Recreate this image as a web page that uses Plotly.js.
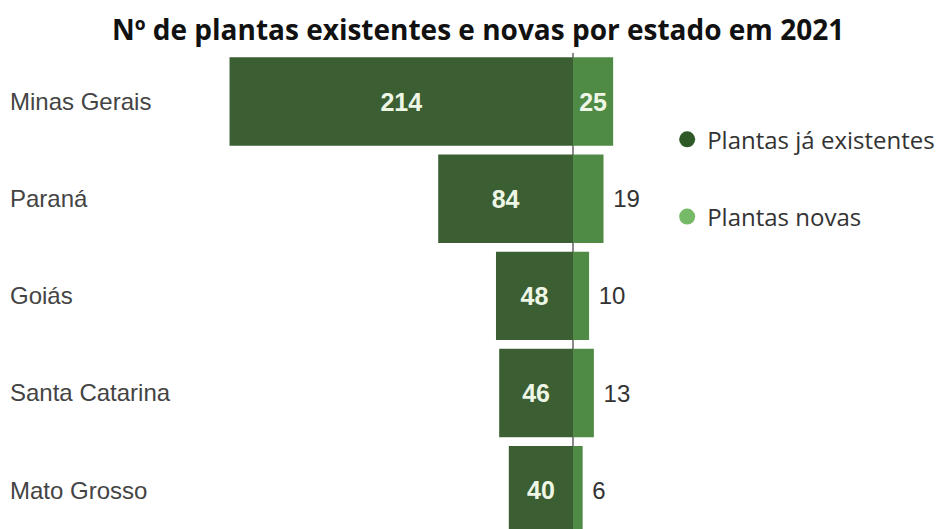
<!DOCTYPE html>
<html>
<head>
<meta charset="utf-8">
<script src="https://cdn.plot.ly/plotly-3.0.1.min.js"></script>
<style>html,body{margin:0;padding:0;background:#fff;}#chart{width:941px;height:529px;}</style>
</head>
<body>
<div id="chart"></div>
<script>
const states = ["Minas Gerais", "Paraná", "Goiás", "Santa Catarina", "Mato Grosso"];
const existentes = [214, 84, 48, 46, 40];
const novas = [25, 19, 10, 13, 6];
const novasTextPos = ["inside", "outside", "outside", "outside", "outside"];
const seriesNames = ["Plantas já existentes", "Plantas novas"];

const barDark = "#3b5f32";
const barLight = "#4f8b45";
const legDark = "#2f5a28";
const legLight = "#76b967";

const traces = [
  {
    type: "bar", orientation: "h", name: seriesNames[0],
    y: states, x: existentes.map(v => -v),
    text: existentes.map(String), textposition: "inside", insidetextanchor: "middle", textangle: 0,
    textfont: {family: "Liberation Sans, Arial, sans-serif", size: 25, color: "#eef6e6", weight: "bold"},
    marker: {color: barDark}, showlegend: false, hoverinfo: "skip", cliponaxis: false
  },
  {
    type: "bar", orientation: "h", name: seriesNames[1],
    y: states, x: novas,
    text: novas.map((v, i) => novasTextPos[i] === "outside" ? "\u00a0" + v : String(v)),
    textposition: novasTextPos, insidetextanchor: "middle", textangle: 0,
    insidetextfont: {family: "Liberation Sans, Arial, sans-serif", size: 25, color: "#eef6e6", weight: "bold"},
    outsidetextfont: {family: "Liberation Sans, Arial, sans-serif", size: 24, color: "#333333"},
    marker: {color: barLight}, showlegend: false, hoverinfo: "skip", cliponaxis: false
  },
  {
    type: "scatter", mode: "markers", name: seriesNames[0], legendgroup: "a",
    x: [null], y: [null], marker: {color: legDark, size: 17}, hoverinfo: "skip"
  },
  {
    type: "scatter", mode: "markers", name: seriesNames[1], legendgroup: "b",
    x: [null], y: [null], marker: {color: legLight, size: 17}, hoverinfo: "skip"
  }
];

const layout = {
  width: 941, height: 529,
  margin: {l: 0, r: 0, t: 53, b: 0},
  paper_bgcolor: "#ffffff", plot_bgcolor: "#ffffff",
  title: {
    text: "<b>Nº de plantas existentes e novas por estado em 2021</b>",
    font: {family: "Open Sans, sans-serif", size: 28, color: "#111111"},
    x: 0.508, xanchor: "center", y: 0.943, yanchor: "middle", xref: "paper", yref: "container"
  },
  barmode: "relative",
  bargap: 0.09,
  xaxis: {
    domain: [0, 0.72], range: [-357, 65.1],
    showgrid: false, showticklabels: false, ticks: "",
    zeroline: true, zerolinecolor: "#8a8a8a", zerolinewidth: 1.5, fixedrange: true
  },
  yaxis: {
    type: "category", categoryorder: "array", categoryarray: states,
    range: [4.4, -0.5],
    showgrid: false, zeroline: false, ticks: "",
    ticklabelposition: "inside", ticklabelstandoff: 7,
    tickfont: {family: "Liberation Sans, Arial, sans-serif", size: 24, color: "#444444"},
    fixedrange: true
  },
  legend: {
    x: 0.709, y: 0.865, xanchor: "left", yanchor: "top",
    font: {family: "Open Sans, sans-serif", size: 24, color: "#333333"},
    tracegroupgap: 43, traceorder: "grouped", bgcolor: "rgba(0,0,0,0)"
  },
  showlegend: true
};

Plotly.newPlot("chart", traces, layout, {displayModeBar: false, staticPlot: true});
</script>
</body>
</html>
